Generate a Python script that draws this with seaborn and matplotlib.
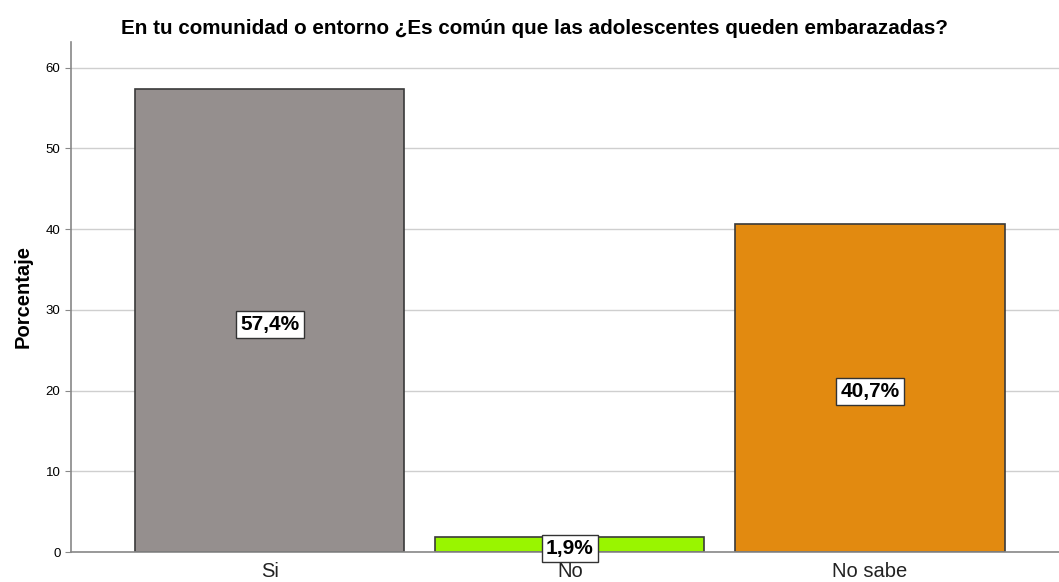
import matplotlib
matplotlib.use("Agg")
import matplotlib.pyplot as plt
import matplotlib.transforms as mtransforms
import pandas as pd
import seaborn as sns

# data
categories = ["Si", "No", "No sabe"]
percentages = [57.4, 1.9, 40.7]
bar_colors = ["#958f8e", "#99f500", "#e28a10"]

df = pd.DataFrame({"respuesta": categories, "pct": percentages})

sns.set_style("white")
plt.rcParams["font.family"] = ["Liberation Sans", "DejaVu Sans"]
plt.rcParams["text.color"] = "black"
plt.rcParams["axes.labelcolor"] = "black"

fig = plt.figure(figsize=(10.59, 5.82), dpi=100)
ax = fig.add_axes([0.067, 0.0515, 0.933, 0.8765])

ax.yaxis.grid(True, color="#cfcfcf", lw=1)
ax.set_axisbelow(True)

sns.barplot(data=df, x="respuesta", y="pct", hue="respuesta",
            palette=dict(zip(categories, bar_colors)), order=categories,
            width=0.897, edgecolor="#3a3a3a", linewidth=1.2,
            legend=False, ax=ax, saturation=1)

# labels sit a few pixels below the bar middle, as in the reference
shift = mtransforms.offset_copy(ax.transData, fig=fig, x=0, y=-4, units="dots")
for patch, v in zip(ax.patches, percentages):
    x = patch.get_x() + patch.get_width() / 2
    ax.text(x, v / 2, f"{v:.1f}%".replace(".", ","), ha="center", va="center",
            fontsize=15, fontweight="bold", color="black", transform=shift,
            bbox=dict(boxstyle="square,pad=0.2", fc="white", ec="#333333", lw=1))

ax.set_xlim(-0.663, 2.63)
ax.set_ylim(0, 63.2)
ax.set_yticks(range(0, 61, 10))
ax.tick_params(axis="y", labelsize=9.5, length=4, color="#888888", left=True,
               labelcolor="black")
ax.tick_params(axis="x", labelsize=14.5, length=0, pad=7, labelcolor="#222222")
ax.set_xlabel("")
ax.set_ylabel("Porcentaje", fontsize=14.5, fontweight="bold")
ax.yaxis.set_label_coords(-0.0385, 0.5)

for s in ["top", "right"]:
    ax.spines[s].set_visible(False)
for s in ["left", "bottom"]:
    ax.spines[s].set_color("#888888")
    ax.spines[s].set_linewidth(1.2)

fig.suptitle("En tu comunidad o entorno ¿Es común que las adolescentes queden embarazadas?",
             x=0.505, y=0.967, fontsize=14.9, fontweight="bold", color="black")

fig.savefig("out.png", dpi=100)
